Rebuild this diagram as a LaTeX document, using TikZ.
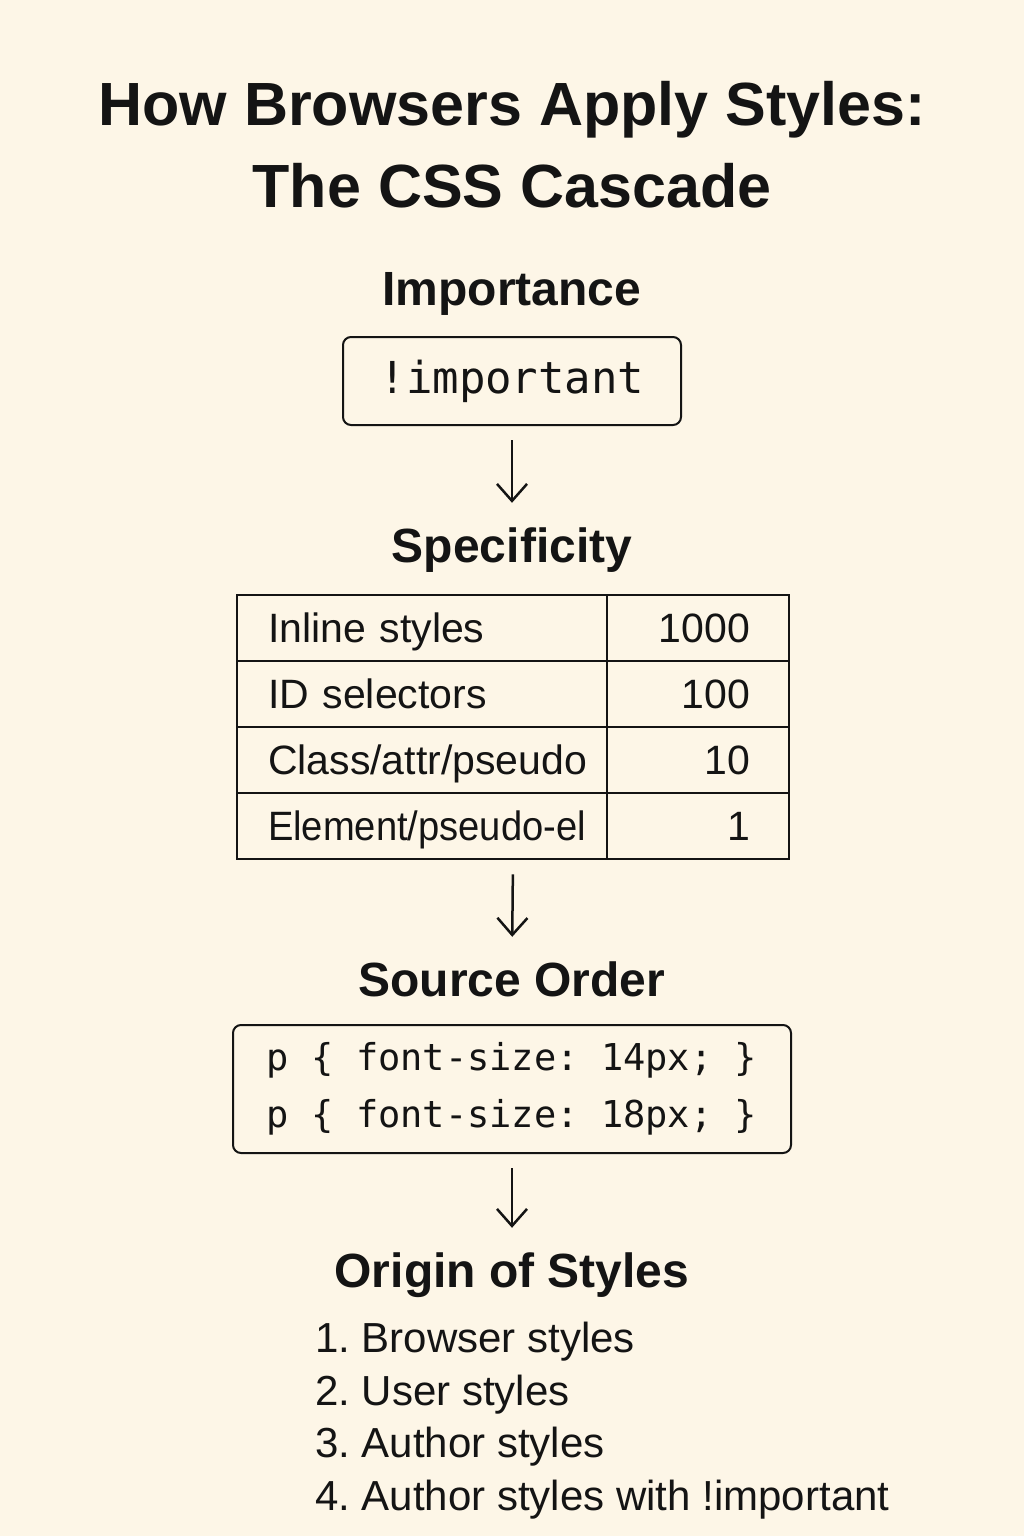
\documentclass[tikz,border=0pt]{standalone}
\usepackage{fontspec}
\setmainfont{Liberation Sans}
\setmonofont{DejaVu Sans Mono}
\usetikzlibrary{arrows.meta,matrix,positioning}
\definecolor{paper}{RGB}{253,246,231}
\definecolor{ink}{RGB}{20,20,20}
\newcommand{\narrowtext}[1]{\mbox{\addfontfeature{FakeStretch=0.93}#1}}
\frenchspacing

\begin{document}
\begin{tikzpicture}[x=1pt,y=-1pt,color=ink,text=ink,
  title/.style={font=\fontsize{61}{68}\selectfont\bfseries, anchor=base, inner sep=0pt},
  heading/.style={font=\fontsize{48}{54}\selectfont\bfseries, anchor=base, inner sep=0pt, text height=36pt, text depth=10pt},
  codebox/.style={draw=ink, line width=2pt, rounded corners=8pt},
  flow/.style={-{Straight Barb[length=17pt,width=30pt]}, line width=2.5pt, shorten <=14pt, shorten >=23pt},
  item/.style={font=\fontsize{42}{48}\selectfont, anchor=base west, inner sep=0pt}]

\fill[paper] (0,0) rectangle (1024,1536);

\node[title] (title1) at (512,125) {How Browsers Apply Styles:};
\node[title] (title2) at (512,207) {The CSS Cascade};

\node[heading] (imphead) at (512,305) {Importance};
\node[codebox, minimum width=338pt, minimum height=88pt, font=\ttfamily\fontsize{44}{50}\selectfont] (imp) at (512,381) {!important};

\node[heading] (spechead) at (512,562) {Specificity};
\matrix (weights)[matrix of nodes, anchor=north, inner sep=0pt, column sep=-2pt, row sep=-2pt,
  nodes={draw=ink, line width=2pt, inner ysep=0pt, minimum height=66pt, text height=34pt, text depth=6pt, font=\fontsize{41}{48}\selectfont},
  column 1/.style={nodes={text width=308pt, inner xsep=31pt, align=left}},
  column 2/.style={nodes={text width=104pt, inner xsep=39pt, align=right}}] at (513,594) {
Inline styles & 1000 \\
ID selectors & 100 \\
Class/attr/pseudo & 10 \\
\narrowtext{Element/pseudo-el} & 1 \\
};

\node[heading] (srchead) at (512,996) {Source Order};
\node[codebox, minimum width=558pt, minimum height=128pt, align=left, font=\ttfamily\fontsize{37}{57}\selectfont] (code) at (512,1089)
  {p \{ font-size: 14px; \}\\p \{ font-size: 18px; \}};

\node[heading] (orighead) at (512,1287) {Origin of Styles};
\node[item] (item1) at (315,1352) {1. Browser styles};
\node[item] (item2) at (315,1405) {2. User styles};
\node[item] (item3) at (315,1457) {3. Author styles};
\node[item] (item4) at (315,1510) {4. Author styles with !important};

\draw[flow] (imp.south) -- (spechead.north);
\draw[flow] (weights.south) -- (srchead.north);
\draw[flow] (code.south) -- (orighead.north);
\end{tikzpicture}
\end{document}
